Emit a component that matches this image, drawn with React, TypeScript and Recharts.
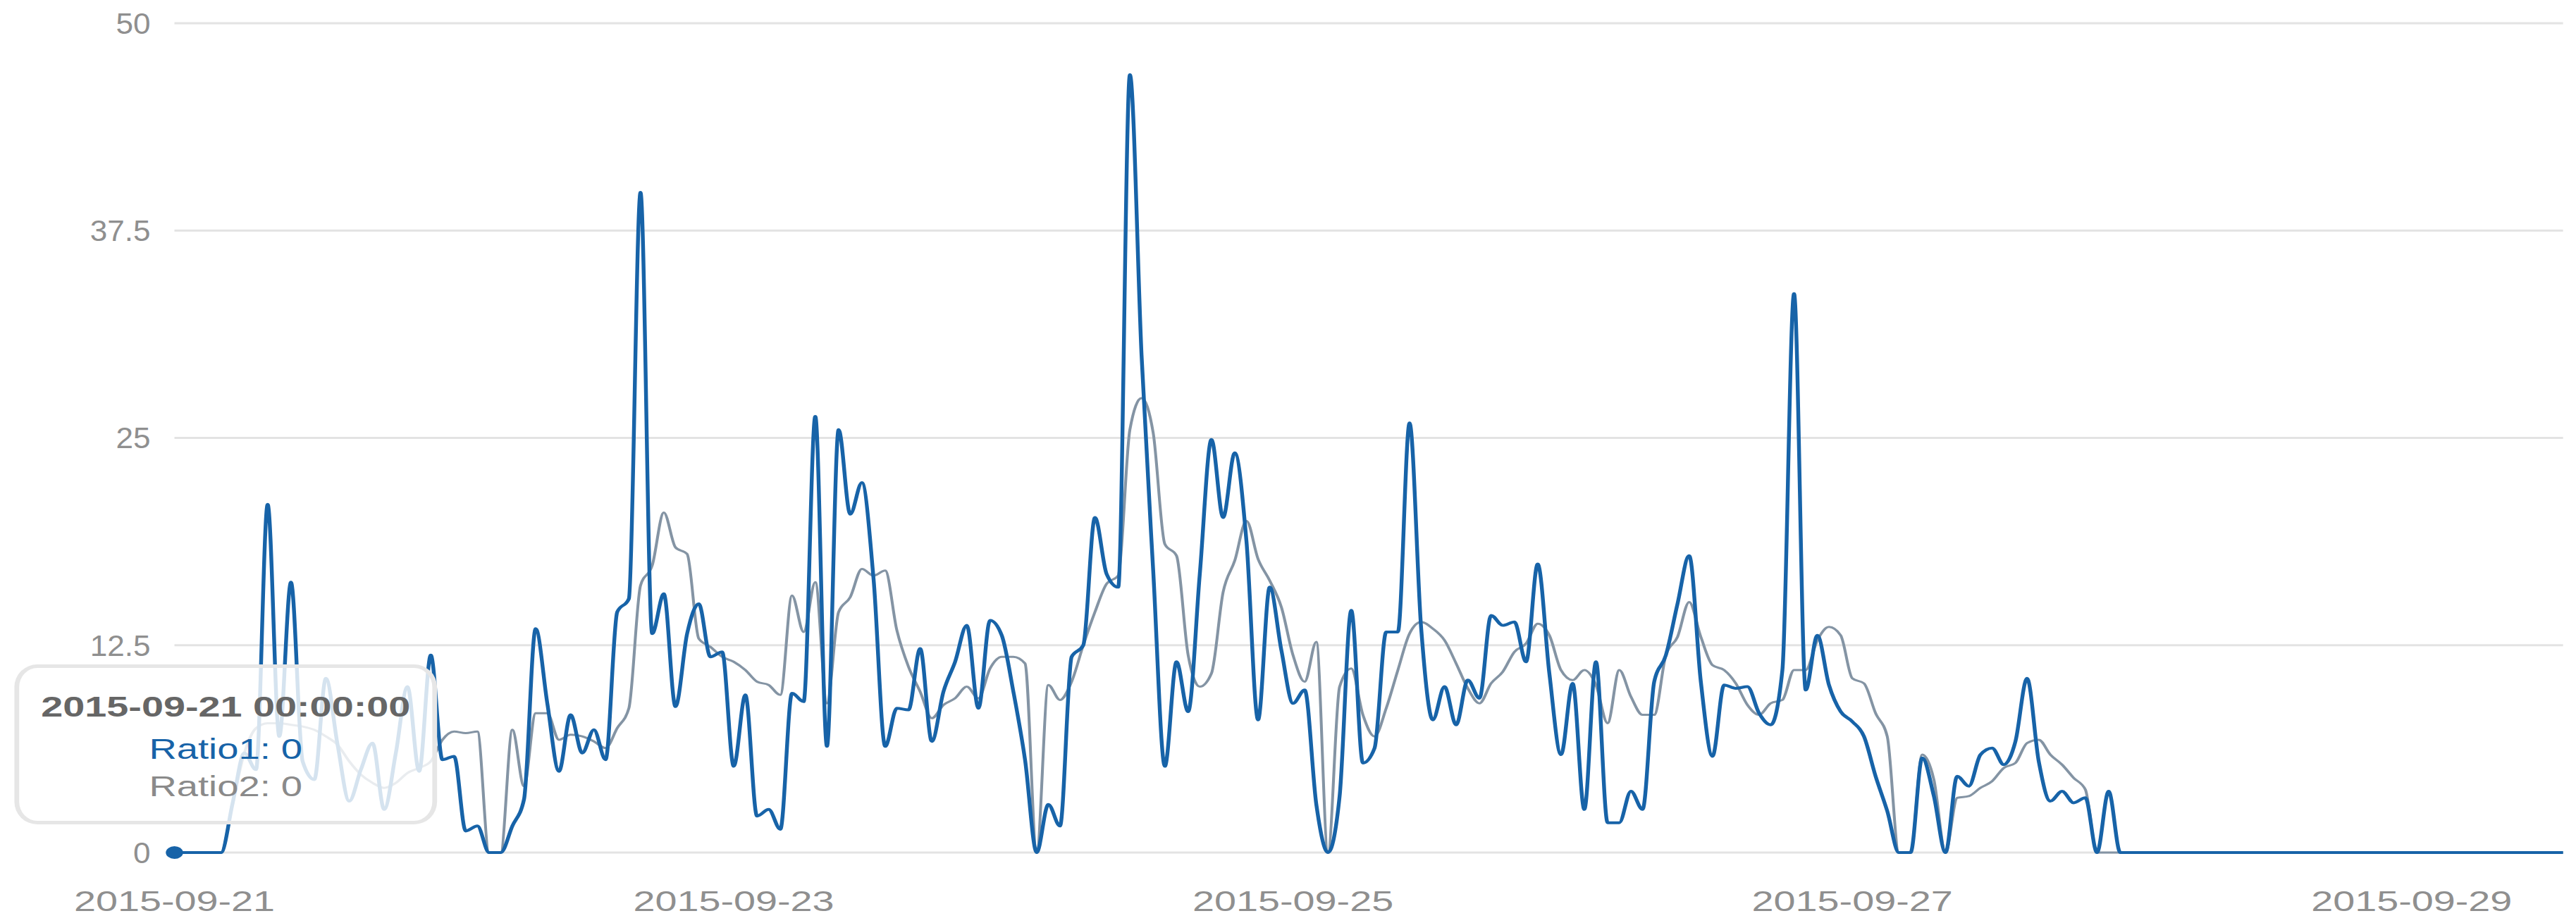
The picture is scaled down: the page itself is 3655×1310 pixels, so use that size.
import React from 'react';
import { LineChart, Line, XAxis, YAxis, CartesianGrid, Tooltip } from 'recharts';

// hourly samples starting 2015-09-21 00:00 (UTC)
const START = Date.UTC(2015, 8, 21);
const HOUR = 3600 * 1000;

const ratio1: number[] = [
  // 09-21
  0, 0, 0, 0, 0, 3, 6, 5, 21, 7, 16.3, 5.5, 4.4, 10.5, 6.5, 3.1, 5, 6.6, 2.6, 6, 10, 4.9, 11.9, 5.6,
  // 09-22
  5.8, 1.3, 1.6, 0, 0, 1.6, 3.2, 13.5, 9, 4.9, 8.3, 6, 7.4, 5.6, 14.5, 15.3, 39.8, 13.2, 15.6, 8.8, 13.2, 15, 11.8, 12.1,
  // 09-23
  5.2, 9.5, 2.2, 2.6, 1.4, 9.6, 9.1, 26.3, 6.4, 25.5, 20.4, 22.3, 16.5, 6.4, 8.7, 8.6, 12.3, 6.7, 9.7, 11.5, 13.7, 8.7, 14, 13.1,
  // 09-24
  9.7, 5.6, 0, 2.9, 1.6, 11.8, 12.5, 20.2, 16.8, 16, 46.9, 30, 17, 5.2, 11.5, 8.5, 16.8, 24.9, 20.2, 24.1, 18.8, 8, 16, 12.2,
  // 09-25
  9, 9.8, 2.9, 0, 3.4, 14.6, 5.4, 6.3, 13.3, 13.3, 25.9, 13.5, 8, 10, 7.7, 10.4, 9.3, 14.3, 13.7, 13.9, 11.5, 17.4, 10.8, 5.9,
  // 09-26
  10.2, 2.6, 11.5, 1.8, 1.8, 3.7, 2.6, 10.3, 11.9, 15, 17.9, 10.3, 5.8, 10.1, 9.9, 10, 8.4, 7.7, 11, 33.7, 9.8, 13.1, 10.1, 8.5,
  // 09-27
  7.9, 7, 4.6, 2.5, 0, 0, 5.7, 3.4, 0, 4.6, 4, 5.9, 6.3, 5.3, 6.7, 10.5, 5.5, 3.1, 3.7, 3, 3.3, 0, 3.7, 0,
  // 09-28
  0, 0, 0, 0, 0, 0, 0, 0, 0, 0, 0, 0, 0, 0, 0, 0, 0, 0, 0, 0, 0, 0, 0, 0,
  // 09-29
  0, 0, 0, 0, 0, 0, 0, 0, 0, 0, 0, 0, 0, 0,
];

const ratio2: number[] = [
  // 09-21
  0, 0, 0, 0, 0, 3, 6, 7.5, 7.8, 7.8, 7.7, 7.6, 7.4, 7, 6.5, 5.5, 4.7, 4.2, 3.9, 4.2, 4.8, 5.1, 5.5, 6.8,
  // 09-22
  7.3, 7.2, 7.3, 0, 0, 7.4, 4, 8.4, 8.4, 6.8, 7.1, 7, 6.7, 6.3, 7.5, 8.7, 16.1, 17.3, 20.5, 18.4, 18, 12.9, 12.4, 11.8,
  // 09-23
  11.5, 11, 10.3, 10.1, 9.5, 15.5, 13.3, 16.3, 9, 14.5, 15.4, 17.1, 16.7, 17, 13.4, 11.2, 9.7, 8.1, 8.9, 9.3, 10, 9.3, 11.1, 11.8,
  // 09-24
  11.8, 11.4, 0, 10.1, 9.2, 10.3, 12.5, 14.5, 16.2, 16.7, 25.5, 27.4, 25.3, 18.6, 17.9, 11.9, 10, 10.8, 15.7, 17.6, 20, 17.7, 16.4, 14.8,
  // 09-25
  11.9, 10.3, 12.7, 0, 10, 11.1, 8.3, 7, 8.7, 11, 13.2, 13.9, 13.5, 12.8, 11.4, 9.9, 9, 10.2, 10.9, 12.1, 12.6, 13.8, 13.1, 11,
  // 09-26
  10.4, 11, 10.1, 7.8, 11, 9.4, 8.3, 8.3, 11.9, 13, 15.1, 13, 11.3, 11, 10.2, 8.9, 8.3, 9, 9.2, 11, 11, 12.8, 13.6, 13.1,
  // 09-27
  10.5, 10.2, 8.4, 7, 0, 0, 5.9, 4.4, 0, 3.3, 3.4, 3.9, 4.3, 5.1, 5.4, 6.6, 6.8, 5.9, 5.3, 4.5, 3.8, 0, 0, 0,
  // 09-28
  0, 0, 0, 0, 0, 0, 0, 0, 0, 0, 0, 0, 0, 0, 0, 0, 0, 0, 0, 0, 0, 0, 0, 0,
  // 09-29
  0, 0, 0, 0, 0, 0, 0, 0, 0, 0, 0, 0, 0, 0,
];

const xTicks = [0, 48, 96, 144, 192];
const xTickLabels = ['2015-09-21', '2015-09-23', '2015-09-25', '2015-09-27', '2015-09-29'];
const yTicks = [0, 12.5, 25, 37.5, 50];

const rows = ratio1.map((v, i) => ({ hour: i, ratio1: v, ratio2: ratio2[i] }));

const BLUE = '#1763a8';
const GREY = '#8494a4';
const FONT = '"Liberation Sans", Arial, sans-serif';

// the reference is horizontally stretched, so draw narrow and scale x
const STRETCH = 1.36;
const W = 2688;
const H = 1310;

const pad = (n: number) => String(n).padStart(2, '0');
function stamp(hour: number) {
  const d = new Date(START + hour * HOUR);
  return `${d.getUTCFullYear()}-${pad(d.getUTCMonth() + 1)}-${pad(d.getUTCDate())} ${pad(d.getUTCHours())}:00:00`;
}

// y labels are barely stretched in the reference: undo most of the scale
function YTick({ x, y, payload }: any) {
  return (
    <g transform={`translate(${x},${y}) scale(${1.05 / STRETCH},1)`}>
      <text x={0} y={0} dy="0.355em" textAnchor="end" fill="#8f8f8f" fontSize={42} fontFamily={FONT}>
        {payload.value}
      </text>
    </g>
  );
}

function TipBox({ active, payload, label }: any) {
  if (!active || !payload || payload.length === 0) return null;
  const r1 = payload.find((p: any) => p.dataKey === 'ratio1');
  const r2 = payload.find((p: any) => p.dataKey === 'ratio2');
  const line = (top: number, color: string, text: string, bold = false, size = 40) => (
    <div
      style={{
        position: 'absolute',
        left: 0,
        right: 0,
        top,
        textAlign: 'center',
        fontSize: size,
        lineHeight: `${size}px`,
        fontWeight: bold ? 700 : 400,
        color,
        whiteSpace: 'nowrap',
      }}
    >
      {text}
    </div>
  );
  return (
    <div
      style={{
        position: 'relative',
        boxSizing: 'border-box',
        width: 441,
        height: 227,
        border: '5px solid #e6e6e6',
        borderRadius: '24px / 32px',
        background: 'rgba(255,255,255,0.82)',
        fontFamily: FONT,
      }}
    >
      {line(35, '#666666', stamp(Number(label)), true, 41)}
      {line(95, BLUE, `Ratio1: ${r1 ? r1.value : ''}`)}
      {line(148, '#8a8a8a', `Ratio2: ${r2 ? r2.value : ''}`)}
    </div>
  );
}

export default function App() {
  const tickStyle = { fill: '#8f8f8f', fontSize: 41, fontFamily: FONT };
  return (
    <div style={{ position: 'absolute', left: 0, top: 0, width: 3655, height: H, overflow: 'hidden', background: '#fff' }}>
      <div style={{ width: W, height: H, transform: `scaleX(${STRETCH})`, transformOrigin: '0 0' }}>
        <LineChart width={W} height={H} data={rows} margin={{ top: 33, right: 14, bottom: 0, left: 0 }}>
          <CartesianGrid vertical={false} stroke="#e3e3e3" strokeWidth={3} />
          <XAxis
            dataKey="hour"
            type="number"
            domain={[0, 205]}
            ticks={xTicks}
            interval={0}
            tickFormatter={(h: number) => xTickLabels[xTicks.indexOf(h)] ?? ''}
            axisLine={false}
            tickLine={false}
            tickSize={0}
            tickMargin={54}
            height={100}
            tick={tickStyle}
          />
          <YAxis
            type="number"
            domain={[0, 50]}
            ticks={yTicks}
            interval={0}
            width={182}
            axisLine={false}
            tickLine={false}
            tickSize={0}
            tickMargin={25}
            tick={<YTick />}
          />
          <Tooltip
            active
            defaultIndex={0}
            cursor={false}
            position={{ x: 15, y: 943 }}
            isAnimationActive={false}
            wrapperStyle={{ outline: 'none' }}
            content={<TipBox />}
          />
          <Line
            name="Ratio2"
            dataKey="ratio2"
            type="monotone"
            stroke={GREY}
            strokeWidth={3}
            dot={false}
            activeDot={false}
            isAnimationActive={false}
          />
          <Line
            name="Ratio1"
            dataKey="ratio1"
            type="monotone"
            stroke={BLUE}
            strokeWidth={4}
            dot={false}
            activeDot={{ r: 9, fill: BLUE, stroke: 'none' }}
            isAnimationActive={false}
          />
        </LineChart>
      </div>
    </div>
  );
}
